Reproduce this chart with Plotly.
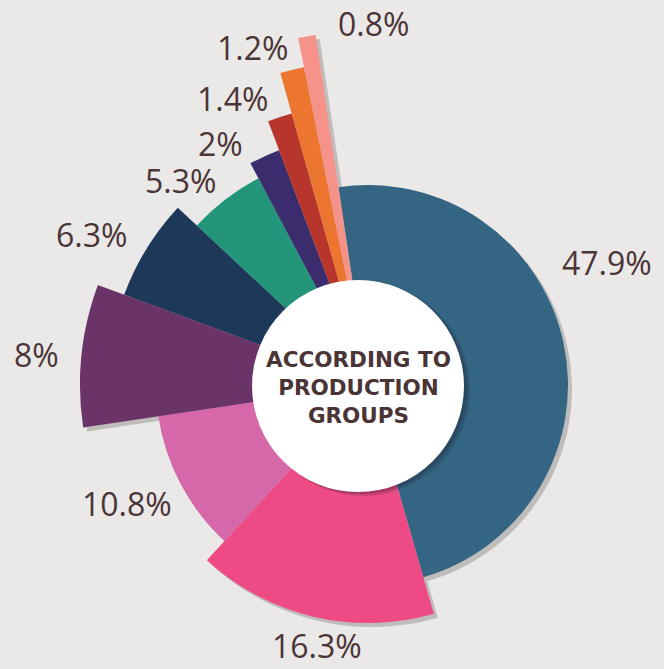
import math
import numpy as np
import plotly.graph_objects as go

W, H = 664, 669

# ---- data ----
labels = ["47.9%", "16.3%", "10.8%", "8%", "6.3%", "5.3%", "2%", "1.4%", "1.2%", "0.8%"]
shares = [47.9, 16.3, 10.8, 8.0, 6.3, 5.3, 2.0, 1.4, 1.2, 0.8]
outer_r = [200, 238, 212, 288, 260, 234, 251, 282, 324, 354]
colors = ["#346582", "#ee4a86", "#d668aa", "#6b3468", "#1e385a",
          "#22957a", "#3b2c6e", "#b8352b", "#ec7630", "#f5938a"]
center_title = "ACCORDING TO<br>PRODUCTION<br>GROUPS"

# ---- geometry ----
START = -8.5               # angle (deg, clockwise from north) where first slice starts
CX, CY = 368, 385          # rose centre in px (from top-left)
SH_DX, SH_DY = 4, 4        # shadow offset

widths = np.array(shares) / 100.0 * 360.0
ends = START + np.cumsum(widths)
starts = ends - widths
theta = starts + widths / 2.0

# groups of bars drawn in their own polar subplot (same px/unit scale = 1)
groups = [
    ([0, 1, 2, 4, 5, 6], 262, None),
    ([3], 300, "auto"),
    ([7, 8, 9], 362, "auto"),
]


def sector_bbox(s0, s1):
    arc = s1 - s0
    a0 = s0 % 360
    a1 = a0 + arc
    ax0, ay0 = math.cos(math.radians(a0)), math.sin(math.radians(a0))
    ax1, ay1 = math.cos(math.radians(a1)), math.sin(math.radians(a1))
    if (a0 <= 90 and a1 >= 90) or (a0 > 90 and a1 >= 450):
        y1 = 1
    elif ay0 <= 0 and ay1 <= 0:
        y1 = 0
    else:
        y1 = max(ay0, ay1)
    if (a0 <= 180 and a1 >= 180) or (a0 > 180 and a1 >= 540):
        x0 = -1
    elif ax0 >= 0 and ax1 >= 0:
        x0 = 0
    else:
        x0 = min(ax0, ax1)
    if (a0 <= 270 and a1 >= 270) or (a0 > 270 and a1 >= 630):
        y0 = -1
    elif ay0 >= 0 and ay1 >= 0:
        y0 = 0
    else:
        y0 = min(ay0, ay1)
    if a1 >= 360:
        x1 = 1
    elif ax0 <= 0 and ax1 <= 0:
        x1 = 0
    else:
        x1 = max(ax0, ax1)
    return x0, y0, x1, y1


def clamp(v):
    return min(1.0, max(0.0, v))


fig = go.Figure()
layout_polars = {}
k = 0
for layer in ("shadow", "main"):
    for idx, rmax, sec in groups:
        k += 1
        name = "polar" if k == 1 else f"polar{k}"
        cx = CX + (SH_DX if layer == "shadow" else 0)
        cy = CY + (SH_DY if layer == "shadow" else 0)
        if sec is None:
            sector = [0, 360]
        else:
            t0 = min(starts[i] for i in idx) - 0.3
            t1 = max(ends[i] for i in idx) + 0.3
            sector = [90 - t1, 90 - t0]
        bx0, by0, bx1, by1 = sector_bbox(*sector)
        dom = dict(x=[clamp((cx + bx0 * rmax) / W), clamp((cx + bx1 * rmax) / W)],
                   y=[clamp((H - cy + by0 * rmax) / H), clamp((H - cy + by1 * rmax) / H)])
        layout_polars[name] = dict(
            domain=dom, sector=sector,
            bgcolor="rgba(0,0,0,0)", barmode="overlay",
            radialaxis=dict(visible=False, range=[0, rmax]),
            angularaxis=dict(visible=False, direction="clockwise", rotation=90),
        )
        if layer == "shadow":
            mcol = "rgba(40,30,30,0.22)"
        else:
            mcol = [colors[i] for i in idx]
        fig.add_trace(go.Barpolar(
            r=[outer_r[i] for i in idx], theta=[theta[i] for i in idx],
            width=[widths[i] for i in idx],
            marker=dict(color=mcol, line=dict(width=0)),
            subplot=name, showlegend=False,
            text=[labels[i] for i in idx],
            hoverinfo="skip" if layer == "shadow" else "text"))

fig.update_layout(
    width=W, height=H,
    margin=dict(l=0, r=0, t=0, b=0),
    paper_bgcolor="#eae9e8",
    plot_bgcolor="#eae9e8",
    showlegend=False,
    **layout_polars,
)

# white centre circle with soft shadow
WCX, WCY, WR = 358, 386, 106


def circ(cx, cy, r, color):
    return dict(type="circle", xref="paper", yref="paper",
                x0=(cx - r) / W, x1=(cx + r) / W,
                y0=(H - cy - r) / H, y1=(H - cy + r) / H,
                fillcolor=color, line=dict(width=0), layer="above")


fig.add_shape(**circ(WCX + 5, WCY + 3, WR + 1, "rgba(20,20,30,0.16)"))
fig.add_shape(**circ(WCX + 3, WCY + 2, WR, "rgba(20,20,30,0.20)"))
fig.add_shape(**circ(WCX, WCY, WR, "#ffffff"))

fig.add_annotation(x=WCX / W, y=1 - (WCY + 1) / H, xref="paper", yref="paper",
                   text=center_title, showarrow=False,
                   font=dict(family="DejaVu Sans", size=21.5, color="#4a3436", weight=700),
                   align="center", xanchor="center", yanchor="middle")

# percentage labels (visual centres in px)
label_pos = [(607, 262), (317, 645), (127, 504), (36, 354), (91, 234),
             (180, 181), (221, 144), (232, 98), (252, 47), (373, 24)]
for txt, (px, py) in zip(labels, label_pos):
    fig.add_annotation(x=px / W, y=1 - py / H, xref="paper", yref="paper",
                       text=txt, showarrow=False, borderpad=0,
                       font=dict(family="Open Sans", size=32, color="#4b3536", weight=400),
                       xanchor="center", yanchor="middle")

fig.write_html("out.html",
               config={"displayModeBar": False},
               post_script="document.body.style.margin='0';document.body.style.padding='0';")
